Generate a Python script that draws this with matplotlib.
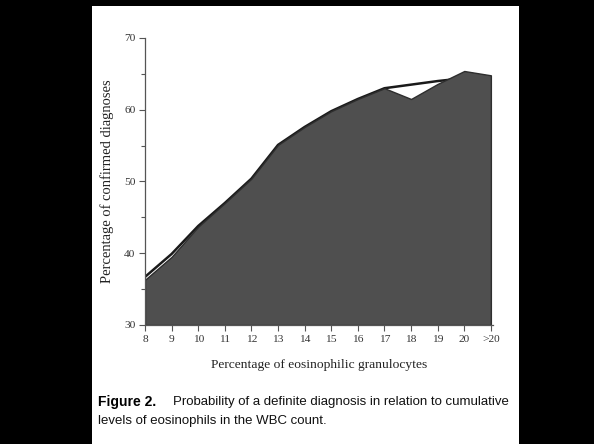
import matplotlib.pyplot as plt
from matplotlib.patches import Rectangle
import numpy as np

# categories on the x axis (cumulative eosinophil levels)
categories = ["8", "9", "10", "11", "12", "13", "14", "15", "16", "17", "18", "19", "20", ">20"]
# observed percentage of confirmed diagnoses (top of the shaded area)
observed = [36.3, 39.5, 43.7, 47.0, 50.4, 55.1, 57.6, 59.8, 61.5, 63.0, 61.5, 63.6, 65.4, 64.8]
# smoothed trend line drawn over the area
trend_x = [0, 1, 2, 3, 4, 5, 6, 7, 8, 9, 10, 11, 12]
trend = [36.7, 39.9, 43.8, 47.0, 50.4, 55.1, 57.6, 59.8, 61.5, 63.0, 63.5, 64.0, 64.4]

serif = "Liberation Serif"
sans = "Liberation Sans"

fig = plt.figure(figsize=(5.94, 4.44), dpi=100, facecolor="black")

# white page panel behind everything
bg = fig.add_axes([0, 0, 1, 1], zorder=-5)
bg.axis("off")
bg.set_xlim(0, 594)
bg.set_ylim(444, 0)
bg.add_patch(Rectangle((92, 6), 519 - 92, 444 - 6, facecolor="white", edgecolor="none"))

ax = fig.add_axes([145 / 594, 1 - 325 / 444, (493 - 145) / 594, (325 - 38) / 444])
ax.patch.set_alpha(0)

x = np.arange(len(categories))
ax.plot(trend_x, trend, color="#1a1a1a", lw=1.8, zorder=1)
ax.fill_between(x, 30, observed, facecolor="#4f4f4f", edgecolor="#2e2e2e", lw=1.0, zorder=2)

ax.set_xlim(0, 13.08)
ax.set_ylim(30, 70)
ax.set_xticks(x)
ax.set_xticklabels(categories, fontfamily=serif, fontsize=8.2, color="#333333")
ax.set_yticks([30, 40, 50, 60, 70])
ax.set_yticks([35, 45, 55, 65], minor=True)
ax.set_yticklabels(["30", "40", "50", "60", "70"], fontfamily=serif, fontsize=8.2, color="#333333")
ax.tick_params(axis="both", which="major", length=4, width=0.8, color="#555555", pad=3)
ax.tick_params(axis="y", which="minor", length=3, width=0.8, color="#555555")

for side in ["top", "right"]:
    ax.spines[side].set_visible(False)
for side in ["left", "bottom"]:
    ax.spines[side].set_color("#555555")
    ax.spines[side].set_linewidth(0.9)

ax.set_ylabel("Percentage of confirmed diagnoses", fontfamily=serif, fontsize=10.5,
              color="#222222", labelpad=7)
ax.set_xlabel("Percentage of eosinophilic granulocytes", fontfamily=serif, fontsize=9.7,
              color="#222222", labelpad=11)

# caption
fig.text(98 / 594, 1 - 402 / 444, "Figure 2.", fontfamily=sans,
         fontweight="bold", fontsize=10, va="center", ha="left", color="#000000")
fig.text(173 / 594, 1 - 402 / 444,
         "Probability of a definite diagnosis in relation to cumulative",
         fontfamily=sans, fontsize=9.5, va="center", ha="left", color="#111111")
fig.text(98 / 594, 1 - 421 / 444, "levels of eosinophils in the WBC count.",
         fontfamily=sans, fontsize=9.5, va="center", ha="left", color="#111111")

fig.savefig("out.png", dpi=100, facecolor="black")
